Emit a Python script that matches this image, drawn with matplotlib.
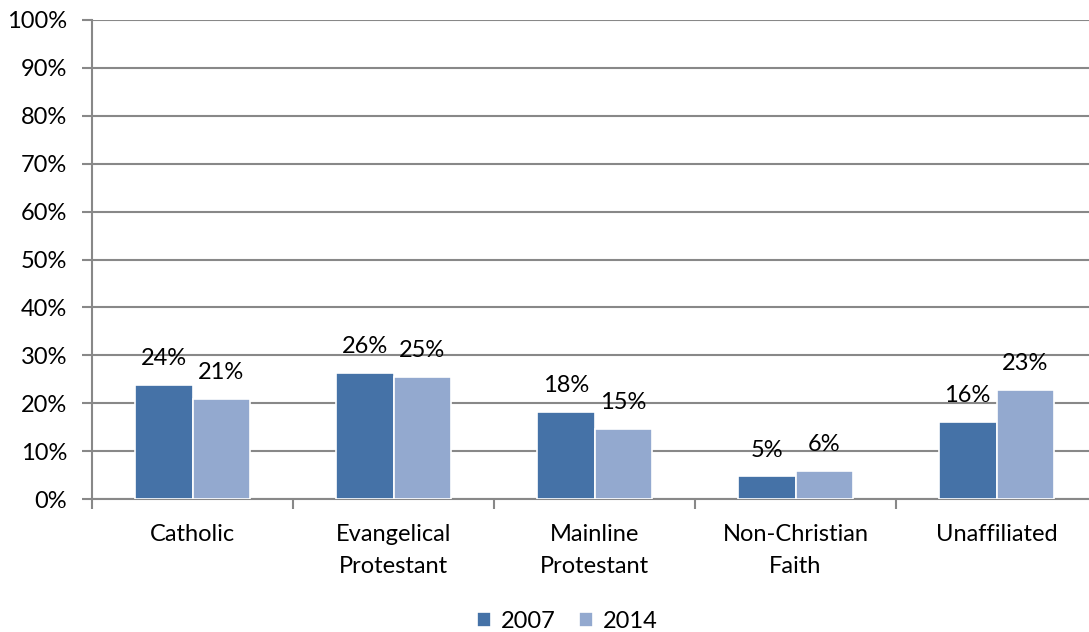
import matplotlib.pyplot as plt
import numpy as np

categories = ["Catholic", "Evangelical\nProtestant", "Mainline\nProtestant",
              "Non-Christian\nFaith", "Unaffiliated"]
values_2007 = [23.9, 26.3, 18.1, 4.7, 16.1]
values_2014 = [20.8, 25.4, 14.7, 5.9, 22.8]
labels_2007 = ["24%", "26%", "18%", "5%", "16%"]
labels_2014 = ["21%", "25%", "15%", "6%", "23%"]
years = ["2007", "2014"]

plt.rcParams['font.family'] = ['Lato', 'DejaVu Sans']
FS = 17

fig = plt.figure(figsize=(10.89, 6.32), dpi=100)
W, H = 1089, 632
# plot area in pixels: left 92, right 1097, top 20, bottom 499
ax = fig.add_axes([92 / W, 1 - 499 / H, (1097 - 92) / W, (499 - 20) / H])

x = np.arange(len(categories))
w = 0.287
c07 = '#4572A7'
c14 = '#93A9CF'
grid_c = '#888888'

b1 = ax.bar(x - w / 2, values_2007, w, color=c07, edgecolor='white', linewidth=1.2,
            label=years[0], zorder=3)
b2 = ax.bar(x + w / 2, values_2014, w, color=c14, edgecolor='white', linewidth=1.2,
            label=years[1], zorder=3)

for bars, labs in [(b1, labels_2007), (b2, labels_2014)]:
    for rect, lab in zip(bars, labs):
        ax.annotate(lab, (rect.get_x() + rect.get_width() / 2, rect.get_height()),
                    xytext=(0, 19), textcoords='offset points', ha='center', va='center',
                    fontsize=FS, color='black', zorder=4)

ax.set_xlim(-0.5, len(categories) - 0.5)
ax.set_ylim(0, 100)
ax.set_yticks(range(0, 101, 10))
ax.set_yticklabels([f"{v}%" for v in range(0, 101, 10)], fontsize=FS)
ax.yaxis.grid(True, color=grid_c, linewidth=1.5, zorder=0)
ax.set_axisbelow(True)

ax.set_xticks(np.arange(-0.5, len(categories), 1.0))
ax.set_xticklabels([])
ax.set_xticks(x, minor=True)
ax.set_xticklabels(categories, minor=True, fontsize=FS, linespacing=1.65)
ax.tick_params(axis='x', which='minor', length=0, pad=18)
ax.tick_params(axis='x', which='major', length=7, width=1.5, color=grid_c)
ax.tick_params(axis='y', length=7, width=1.5, color=grid_c, pad=11)

for s in ['top', 'right']:
    ax.spines[s].set_visible(False)
ax.spines['left'].set_color(grid_c)
ax.spines['left'].set_linewidth(1.5)
ax.spines['bottom'].set_color(grid_c)
ax.spines['bottom'].set_linewidth(1.5)

fig.legend(handles=[b1, b2], labels=years, loc='center', bbox_to_anchor=(567 / W, 1 - 621 / H),
           ncol=2, frameon=False, fontsize=FS, handlelength=0.6, handleheight=0.6,
           handletextpad=0.4, columnspacing=1.0)

fig.savefig('out.png', dpi=100)
